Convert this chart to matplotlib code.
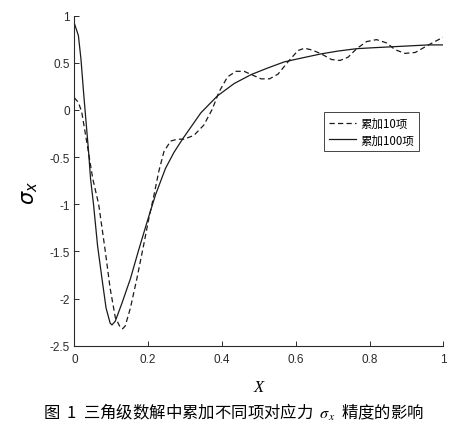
import matplotlib
matplotlib.use("Agg")
import matplotlib.pyplot as plt

# values
x_100 = [0.0, 0.011, 0.018, 0.025, 0.031, 0.038, 0.044, 0.052, 0.063, 0.075, 0.086,
         0.097, 0.102, 0.111, 0.129, 0.152, 0.174, 0.197, 0.22, 0.247, 0.27, 0.293,
         0.343, 0.388, 0.433, 0.479, 0.524, 0.569, 0.615, 0.669, 0.715, 0.765, 0.81,
         0.86, 0.91, 0.96, 1.0]
y_100 = [0.92, 0.79, 0.54, 0.19, -0.09, -0.41, -0.73, -1.0, -1.44, -1.79, -2.1,
         -2.26, -2.28, -2.24, -2.05, -1.79, -1.49, -1.19, -0.9, -0.62, -0.45, -0.31,
         -0.03, 0.15, 0.28, 0.375, 0.445, 0.51, 0.55, 0.595, 0.625, 0.65, 0.66,
         0.67, 0.68, 0.69, 0.69]

x_10 = [0.0, 0.011, 0.02, 0.029, 0.038, 0.05, 0.066, 0.084, 0.097, 0.111, 0.125,
        0.131, 0.138, 0.152, 0.17, 0.188, 0.202, 0.216, 0.229, 0.243, 0.261, 0.279,
        0.297, 0.324, 0.351, 0.374, 0.392, 0.415, 0.438, 0.46, 0.483, 0.506, 0.529,
        0.552, 0.579, 0.606, 0.624, 0.645, 0.669, 0.697, 0.72, 0.742, 0.765, 0.792,
        0.819, 0.847, 0.869, 0.896, 0.924, 0.96, 0.987, 1.0]
y_10 = [0.13, 0.08, -0.02, -0.23, -0.44, -0.73, -1.0, -1.5, -1.89, -2.2, -2.31,
        -2.32, -2.29, -2.1, -1.78, -1.43, -1.15, -0.9, -0.65, -0.44, -0.33, -0.31,
        -0.31, -0.27, -0.16, 0.01, 0.19, 0.35, 0.41, 0.41, 0.37, 0.33, 0.33,
        0.38, 0.51, 0.63, 0.655, 0.635, 0.595, 0.535, 0.525, 0.56, 0.65, 0.725,
        0.746, 0.71, 0.64, 0.60, 0.61, 0.69, 0.746, 0.77]

labels = ["累加10项", "累加100项"]
xticks = [0, 0.2, 0.4, 0.6, 0.8, 1]
yticks = [-2.5, -2, -1.5, -1, -0.5, 0, 0.5, 1]
caption = r"图  1  三角级数解中累加不同项对应力  $\sigma_x$  精度的影响"

plt.rcParams['font.family'] = ['Liberation Sans', 'DejaVu Sans']

fig = plt.figure(figsize=(4.68, 4.31), dpi=100)
ax = fig.add_axes([0.1588, 0.1956, 0.7885, 0.7657])

ax.plot(x_10, y_10, color='#1a1a1a', lw=0.9, linestyle=(0, (4.2, 2.6)), label=labels[0])
ax.plot(x_100, y_100, color='#1a1a1a', lw=0.9, label=labels[1])

ax.set_xlim(0, 1)
ax.set_ylim(-2.5, 1)
ax.set_xticks(xticks)
ax.set_xticklabels([f"{t:g}" for t in xticks])
ax.set_yticks(yticks)
ax.set_yticklabels([f"{t:g}" for t in yticks])
ax.tick_params(direction='in', length=3.5, width=0.7, labelsize=8.5, colors='#2a2a2a')
ax.tick_params(axis='x', pad=5)
ax.tick_params(axis='y', pad=3)
for s in ['top', 'right']:
    ax.spines[s].set_visible(False)
for s in ['left', 'bottom']:
    ax.spines[s].set_linewidth(0.8)
    ax.spines[s].set_color('#2a2a2a')

ax.set_ylabel(r"$\sigma_x$", fontsize=15, math_fontfamily='dejavusans', rotation=90)
ax.yaxis.set_label_coords(-0.093, 0.467)
ax.set_xlabel("X", fontsize=12, family='Liberation Serif', style='italic')
ax.xaxis.set_label_coords(0.5, -0.1)

leg = ax.legend(loc='upper left', bbox_to_anchor=(0.6775, 0.707), frameon=True,
                fancybox=False, edgecolor='#444444', framealpha=1,
                prop={'family': ['Noto Sans CJK SC'], 'size': 8.3},
                handlelength=2.35, handletextpad=0.4, borderpad=0.4,
                labelspacing=0.3, borderaxespad=0)
leg.get_frame().set_linewidth(0.7)

fig.text(0.5, 0.042, caption, ha='center', va='center', fontsize=11.8,
         family=['Noto Sans CJK SC', 'DejaVu Sans'], math_fontfamily='stix')

fig.savefig("out.png", dpi=100)
